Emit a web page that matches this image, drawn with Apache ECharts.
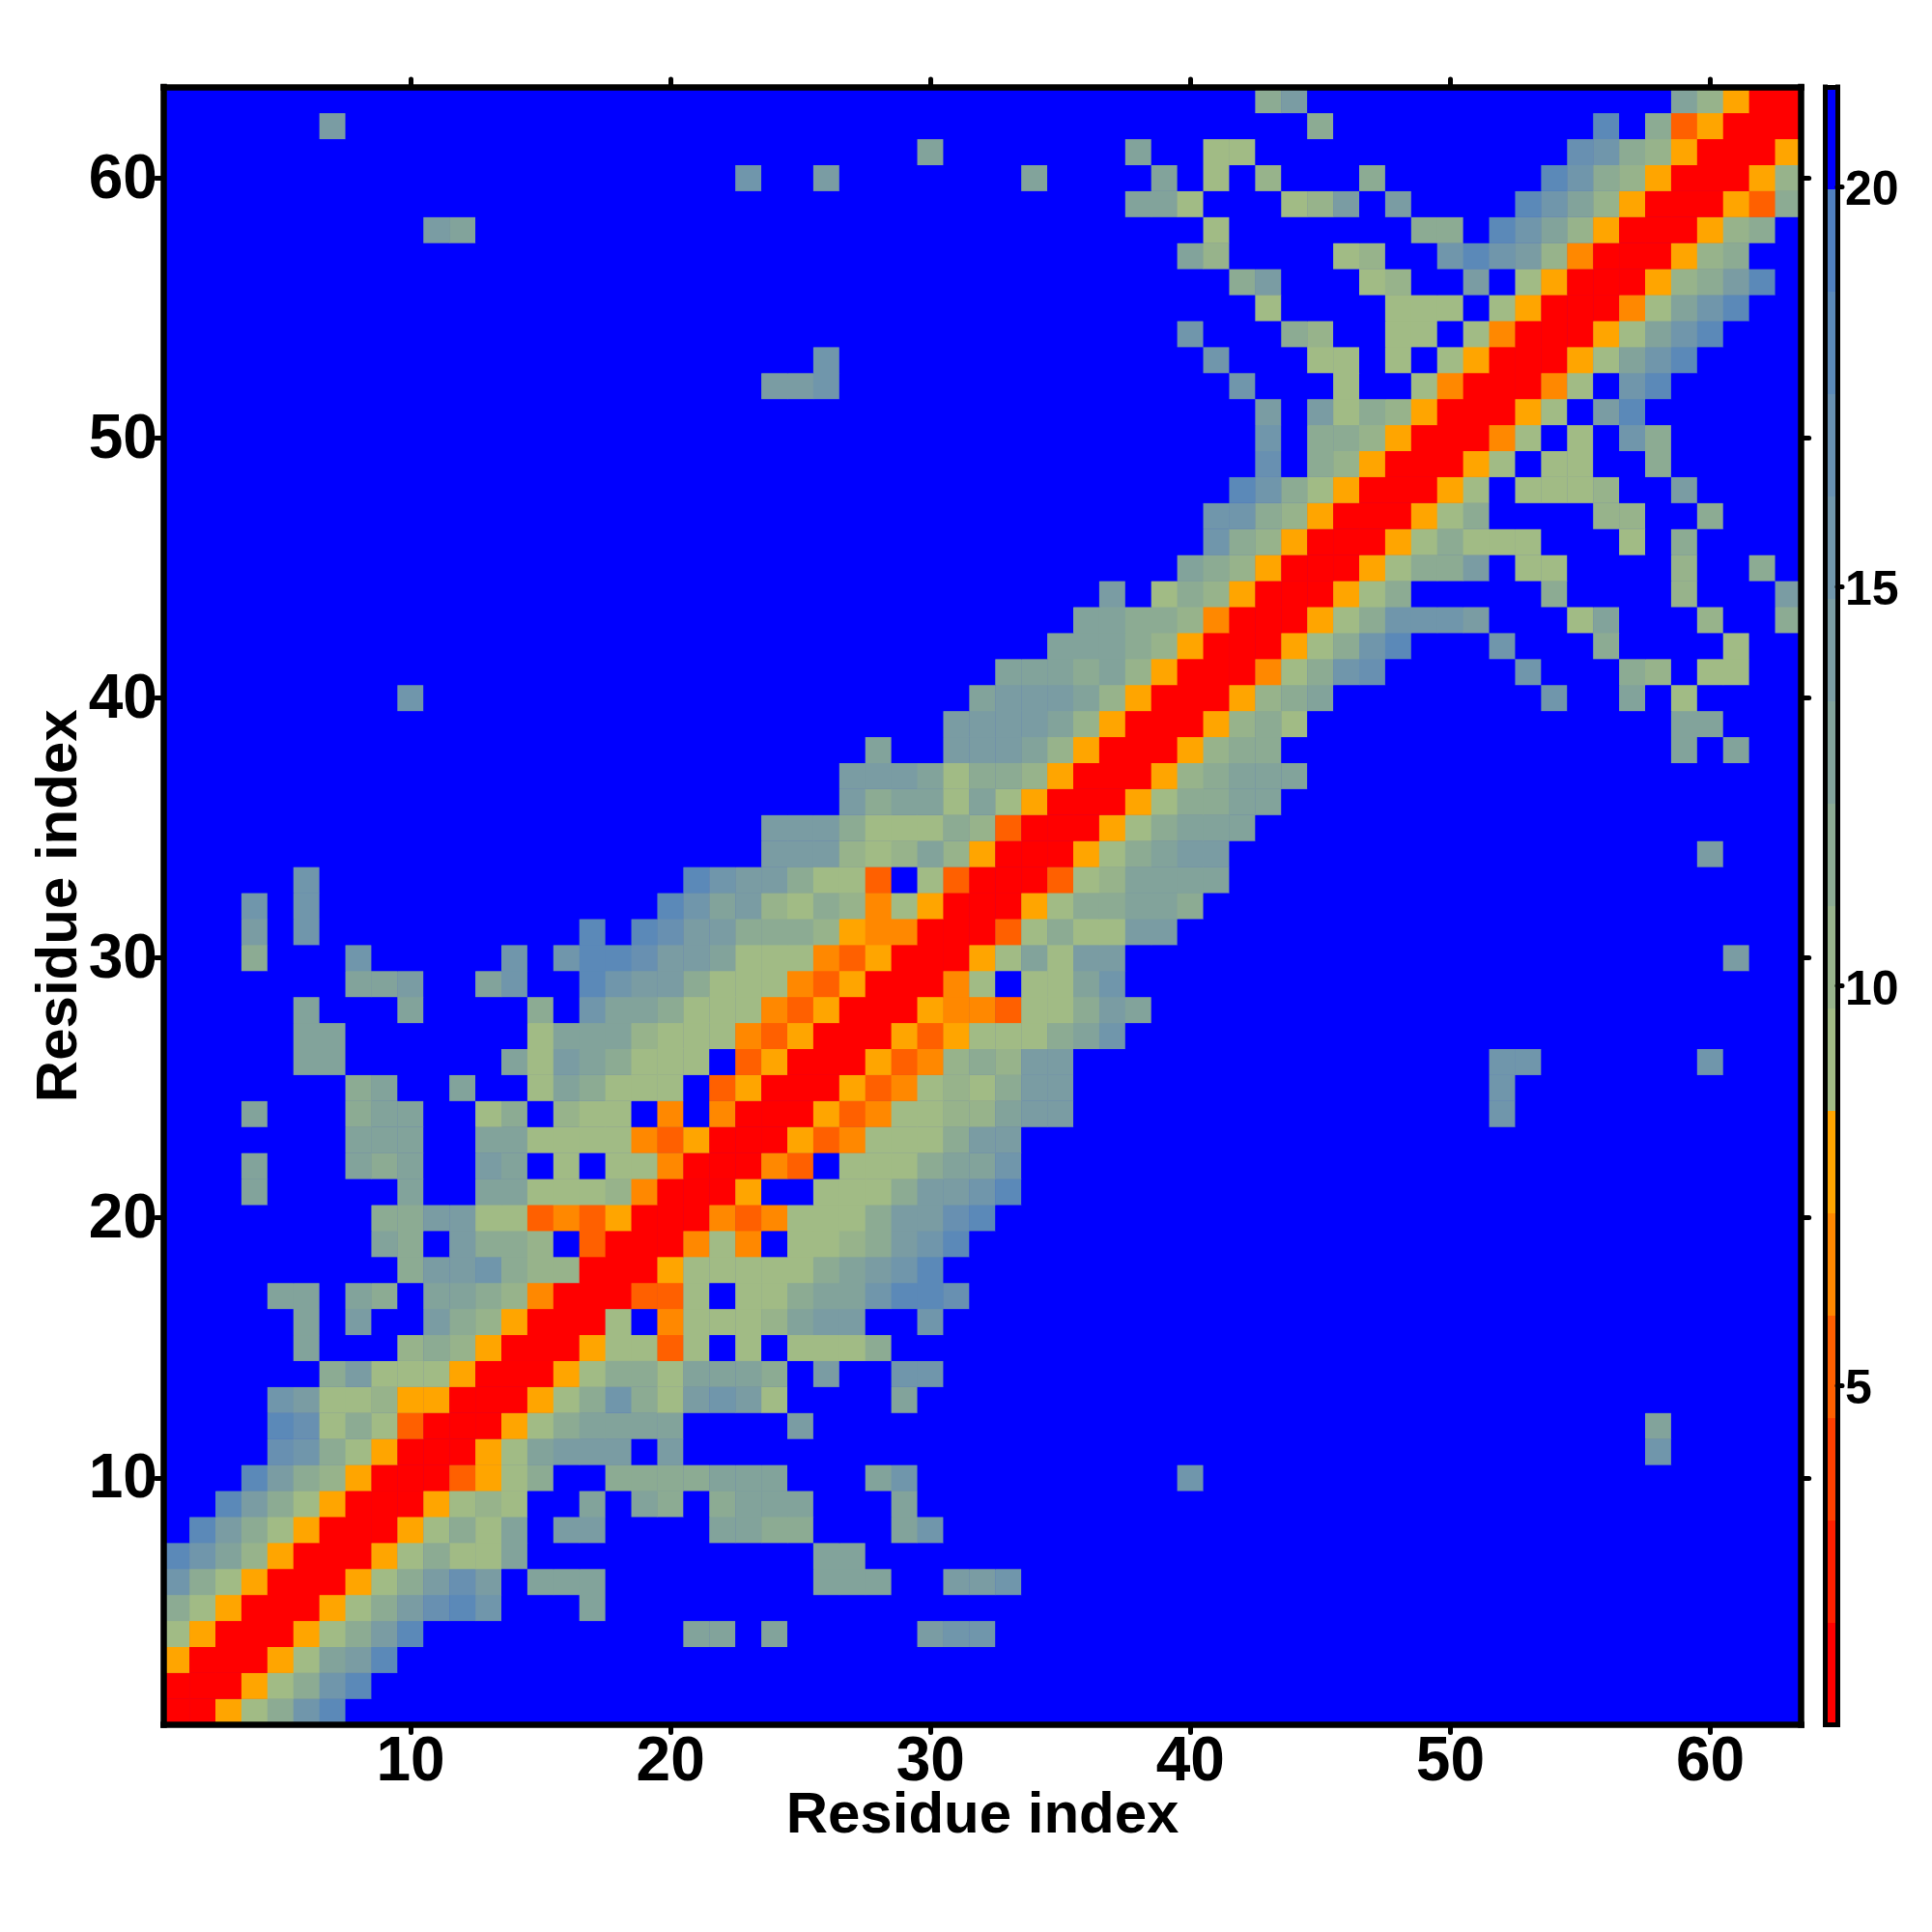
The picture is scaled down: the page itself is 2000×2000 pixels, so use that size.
<!DOCTYPE html>
<html><head><meta charset="utf-8"><title>Residue map</title>
<script src="https://cdn.jsdelivr.net/npm/echarts@6/dist/echarts.min.js"></script>
<style>html,body{margin:0;padding:0;background:#fff}#c{width:2000px;height:2000px}</style></head>
<body><div id="c"></div>
<script>
// Each entry: row number, then "startColumn:levelCodes" runs. Cells not listed are the top (blue) level.
const cellRuns = [
"1 1:rra1368",
"2 1:rrra1368",
"3 1:arrra1458",
"4 1:1arrra1358 21:44 24:4 30:566",
"5 1:31arrra135786 17:4",
"6 1:631arrra13575 15:444 26:444 31:556",
"7 1:8642arrra13114 26:44",
"8 2:8531arrra1314 16:55 22:4433 29:46",
"9 3:8531arrra121 17:4 19:43 22:3444 29:4",
"10 4:8532arrrca13 18:3333444 28:46 40:6",
"11 5:7631arrra14555 20:5 58:6",
"12 5:87131crrra134444 25:5 58:4",
"13 5:65112aarrra136315651 29:4",
"14 7:35111arrra13314443 26:5 29:66",
"15 6:4 10:232arrra11c1 23:1 25:1113",
"16 6:4 8:5 11:532arrr1 20:b1112455 30:6",
"17 5:44 8:43 11:4432brrrcc1 23:113446887",
"18 10:3556322rrra1111134568",
"19 9:43 12:5332 17:crrrb1b 25:1123568",
"20 9:335511cbcarrrbcb11135578",
"21 4:4 10:4 13:44 15:1112brrra 26:11135568",
"22 4:4 8:434 13:54 16:1 18:11brrrbc 27:1113446",
"23 8:444 13:44 15:1111bcarrracb111355",
"24 4:4 8:344 13:13 16:211 20:b 22:brrracb1122455 52:6",
"25 8:34 12:4 15:143111 22:carrracb121355 52:6",
"26 6:44 14:41543111 23:carrracb23255 52:66 60:6",
"27 6:44 15:14442111bcarrraca111346",
"28 6:4 10:4 15:3 17:6443111bcarrrabbc11354",
"29 8:445 13:46 17:86553111bcarrrb1 34:1146",
"30 4:3 8:6 14:6 16:6887554111bcarrra14155 61:5",
"31 4:5 6:6 17:8 19:87553332abbrrrc131155",
"32 4:6 6:6 20:86452132b1arrra133443",
"33 6:6 21:8655311c 30:1crrrc124444",
"34 24:55521242arrra13455 60:5",
"35 24:555311132crrra13444",
"36 27:5344141arrra13344",
"37 27:55541332arrra23444",
"38 28:4 31:55542arrra233 59:4 61:4",
"39 31:555542arrra231 59:44",
"40 10:6 32:455542arrra234 54:6 57:4 59:1",
"41 33:444342arrrb1367 53:6 57:32 60:11",
"42 35:44432arrra1368 52:6 56:3 61:1",
"43 36:44332brrra136665 55:14 60:2 63:3",
"44 37:5 39:132arrra13 54:3 59:2 63:5",
"45 40:432arrra1335 53:11 59:2 62:3",
"46 41:632arrra13111 57:1 59:3",
"47 41:6632arrra13 56:22 60:3",
"48 42:8631arrra1 53:1112 59:5",
"49 43:7 45:32arrra1 54:11 58:3",
"50 43:6 45:332arrrb1 55:1 57:63",
"51 43:5 45:5132arrra1 56:58",
"52 24:556 42:6 46:1 49:1brrrb1 57:68",
"53 26:6 41:6 45:11 48:1 50:1arrra1468",
"54 40:6 44:32 48:11 51:1brrra1468",
"55 43:1 48:111 52:1arrrb1468",
"56 42:35 47:12 51:5 53:1arrra2358",
"57 40:42 46:12 50:68652brrra23",
"58 11:54 41:1 49:33 52:8642arrra23",
"59 38:441 44:125 48:5 53:8642arrrac3",
"60 23:6 26:5 34:4 39:4 41:1 43:2 47:3 54:8632arrra2",
"61 30:4 38:4 41:11 55:7632arrra",
"62 7:5 45:3 56:8 58:3carrr",
"63 43:35 59:42arr"
];
const residueCount = 63;
const residueTicks = [10, 20, 30, 40, 50, 60];
const scaleTicks = [5, 10, 15, 20];
const scaleMin = 0.756;
const scaleMax = 21.25;
const levelCodes = ['r', 'x', 'y', 'c', 'b', 'a', '1', '2', '3', '4', '5', '6', '7', '8', '9', '.'];
const levelColors = ['#ff0000', '#ff2000', '#ff4000', '#ff6000', '#ff8800', '#ffa500',
  '#a1bb85', '#97b38b', '#8cab93', '#82a39b', '#7a9ca3', '#7096ab', '#6890b1', '#5b89b8', '#5080bf', '#0000ff'];
const axisTitle = 'Residue index';

const step = (scaleMax - scaleMin) / levelCodes.length;
const bands = levelColors.map((color, i) => [scaleMin + i * step, scaleMin + (i + 1) * step, color]);
const grid = [];
for (let y = 0; y < residueCount; y++) grid.push(new Array(residueCount).fill(levelCodes.length - 1));
cellRuns.forEach(line => {
  const tokens = line.split(' ');
  const row = +tokens[0] - 1;
  tokens.slice(1).forEach(t => {
    const [start, codes] = t.split(':');
    [...codes].forEach((ch, k) => { grid[row][+start - 1 + k] = levelCodes.indexOf(ch); });
  });
});
const cells = [];
grid.forEach((r, y) => r.forEach((lvl, x) => cells.push([x, y, scaleMin + (lvl + 0.5) * step])));
const residues = Array.from({length: residueCount}, (_, i) => String(i + 1));
const isTick = i => residueTicks.includes(i + 1);

const font = 'Liberation Sans';
const line = {show: true, onZero: false, lineStyle: {color: '#000', width: 6.5, cap: 'square'}};
const thin = {show: true, onZero: false, lineStyle: {color: '#000', width: 5, cap: 'square'}};
const tick = {show: true, inside: false, length: 8, alignWithLabel: true, interval: i => isTick(i), lineStyle: {color: '#000', width: 5, cap: 'round'}};
const title = {name: axisTitle, nameLocation: 'middle', nameMoveOverlap: false, nameTextStyle: {fontFamily: font, fontWeight: 'bold', fontSize: 60, color: '#000'}};
const label = {show: true, interval: i => isTick(i), fontFamily: font, fontWeight: 'bold', fontSize: 64, color: '#000'};
const residueAxis = extra => Object.assign({type: 'category', data: residues, gridIndex: 0, z: 10, axisLine: line, axisTick: tick, axisLabel: {show: false}, splitLine: {show: false}, splitArea: {show: false}}, extra);
const barX = extra => Object.assign({type: 'value', gridIndex: 1, min: 0, max: 1, z: 10, axisLine: thin, axisTick: {show: false}, axisLabel: {show: false}, splitLine: {show: false}}, extra);
const barY = extra => Object.assign({type: 'value', gridIndex: 1, min: scaleMin, max: scaleMax, z: 10, axisLine: thin, axisTick: {show: false}, axisLabel: {show: false}, splitLine: {show: false}}, extra);

const chart = echarts.init(document.getElementById('c'), null, {renderer: 'canvas'});
chart.setOption({
  backgroundColor: '#fff',
  animation: false,
  grid: [
    {left: 169.4, top: 90, width: 1695.3, height: 1695.5, show: true, backgroundColor: '#0000ff', borderWidth: 0},
    {left: 1889.5, top: 90, width: 12.5, height: 1695.5}
  ],
  xAxis: [
    residueAxis(Object.assign({position: 'bottom', axisLabel: Object.assign({margin: 8}, label), nameGap: 64.5}, title)),
    residueAxis({position: 'top'}),
    barX({position: 'bottom'}),
    barX({position: 'top'})
  ],
  yAxis: [
    residueAxis(Object.assign({position: 'left', axisLabel: Object.assign({margin: 6.5, verticalAlign: 'top', lineHeight: 6}, label), nameGap: 77, nameRotate: 90}, title)),
    residueAxis({position: 'right'}),
    barY({position: 'right',
      axisTick: {show: true, length: 5, customValues: scaleTicks, lineStyle: {color: '#000', width: 5, cap: 'round'}},
      axisLabel: {show: true, customValues: scaleTicks, margin: 8, verticalAlign: 'top', lineHeight: 10, fontFamily: font, fontWeight: 'bold', fontSize: 50, color: '#000'}}),
    barY({position: 'left'})
  ],
  visualMap: {
    type: 'piecewise', show: false, seriesIndex: 0, dimension: 2,
    pieces: bands.map(b => ({min: b[0], max: b[1], color: b[2]}))
  },
  series: [
    {type: 'heatmap', xAxisIndex: 0, yAxisIndex: 0, data: cells, progressive: 0, emphasis: {disabled: true}, silent: true},
    {type: 'custom', xAxisIndex: 2, yAxisIndex: 2, silent: true, clip: true,
      data: bands.map((b, i) => [0, b[0], b[1], i]),
      encode: {x: 0, y: [1, 2]},
      renderItem: (params, api) => {
        const a = api.coord([0, api.value(1)]);
        const b = api.coord([1, api.value(2)]);
        return {type: 'rect', shape: {x: a[0], y: Math.round(b[1]), width: b[0] - a[0], height: Math.round(a[1]) - Math.round(b[1])},
          style: {fill: levelColors[api.value(3)]}};
      }}
  ]
});
</script></body></html>
